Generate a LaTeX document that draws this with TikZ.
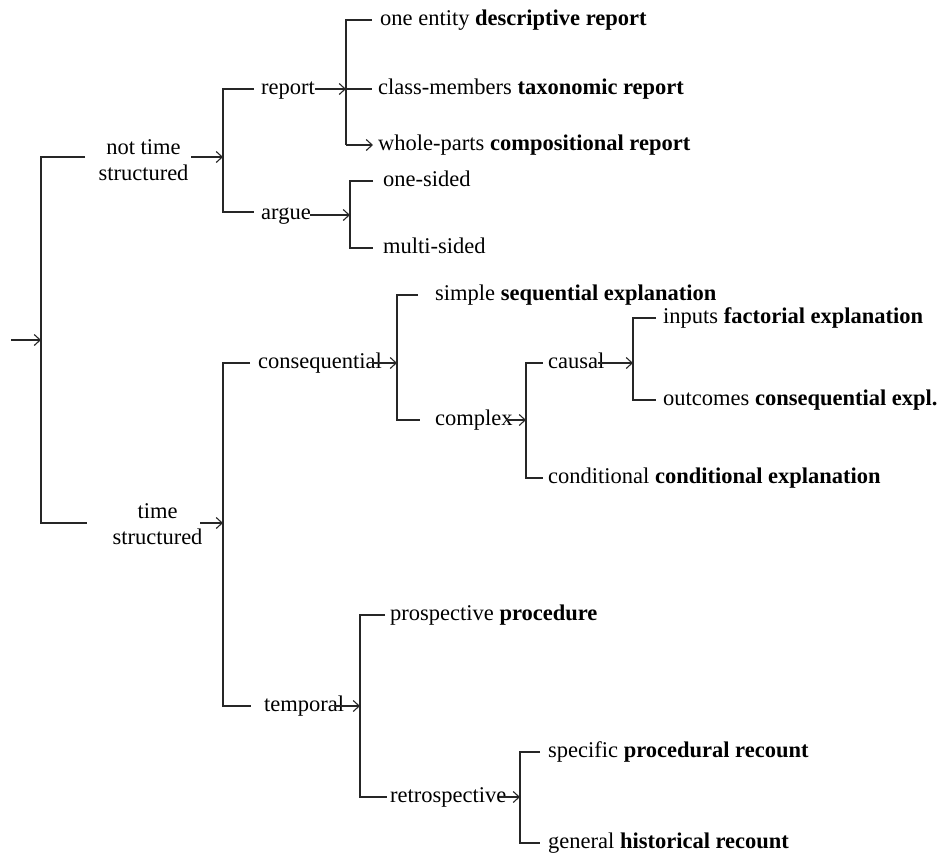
\documentclass[tikz,border=0pt]{standalone}
\usepackage{fontspec}
\setmainfont{Liberation Serif}
\usetikzlibrary{arrows.meta}

\begin{document}
\begin{tikzpicture}[x=1pt,y=-1pt,
  lbl/.style={anchor=base west, inner sep=0pt, yshift=-5.5pt, font=\fontsize{22.5}{26}\selectfont},
  twoline/.style={anchor=center, inner sep=0pt, align=center, font=\fontsize{22.5}{26}\selectfont},
  wire/.style={line width=1.1pt, black!85},
  arr/.style={wire, -{Straight Barb[length=6pt,width=11pt,line width=1.1pt]}},
]
\useasboundingbox (0,0) rectangle (937,852);

% ---------- labels ----------
\node[twoline] (nts) at (143.5,160) {not time\\structured};
\node[twoline] (ts)  at (157.5,524) {time\\structured};

\node[lbl] (report) at (261,89)  {report};
\node[lbl] (argue)  at (261,214) {argue};
\node[lbl] (one)    at (380,20)  {one entity \textbf{descriptive report}};
\node[lbl] (class)  at (378,89)  {class-members \textbf{taxonomic report}};
\node[lbl] (whole)  at (378,145) {whole-parts \textbf{compositional report}};
\node[lbl] (onesd)  at (383,181) {one-sided};
\node[lbl] (multi)  at (383,248) {multi-sided};

\node[lbl] (cons)    at (258,363) {consequential};
\node[lbl] (simple)  at (435,295) {simple \textbf{sequential explanation}};
\node[lbl] (complex) at (435,420) {complex};
\node[lbl] (causal)  at (548,363) {causal};
\node[lbl] (inputs)  at (663,318) {inputs \textbf{factorial explanation}};
\node[lbl] (outcome) at (663,400) {outcomes \textbf{consequential expl.}};
\node[lbl] (condit)  at (548,478) {conditional \textbf{conditional explanation}};

\node[lbl] (temporal) at (264,706) {temporal};
\node[lbl] (prosp)    at (390,615) {prospective \textbf{procedure}};
\node[lbl] (retro)    at (390,797) {retrospective};
\node[lbl] (specific) at (548,752) {specific \textbf{procedural recount}};
\node[lbl] (general)  at (548,843) {general \textbf{historical recount}};

% ---------- bracket joints ----------
\coordinate (in)  at (11,340);
\coordinate (j0)  at (41,340);
\coordinate (jA)  at (223,157);
\coordinate (jB)  at (223,523);
\coordinate (jR)  at (346,89);
\coordinate (jG)  at (350,215);
\coordinate (jC)  at (397,363);
\coordinate (jD)  at (526,420);
\coordinate (jE)  at (633,363);
\coordinate (jF)  at (360,706);
\coordinate (jH)  at (520,797);

% ---------- root ----------
\draw[arr] (in) -- (j0);
\draw[wire] (85,157) -- (41,157) -- (41,523) -- (87,523);
\draw[arr] (191,157) -- (jA);
\draw[arr] (200,523) -- (jB);

% ---------- not time structured ----------
\draw[wire] (254,89) -- (223,89) -- (223,212) -- (254,212);
\draw[arr] (report.east |- jR) -- (jR);
\draw[wire] (372,20) -- (346,20) -- (346,145);
\draw[wire] (jR) -- (372,89);
\draw[arr] (346,145) -- (373,145);
\draw[arr] ([xshift=-1pt]argue.east |- jG) -- (jG);
\draw[wire] (373,181) -- (350,181) -- (350,248) -- (373,248);

% ---------- time structured ----------
\draw[wire] (250,363) -- (223,363) -- (223,706) -- (251,706);
\draw[arr] ([xshift=-10pt]cons.east |- jC) -- (jC);
\draw[wire] (418,295) -- (397,295) -- (397,420) -- (420,420);
\draw[arr] ([xshift=-7pt]complex.east |- jD) -- (jD);
\draw[wire] (543,363) -- (526,363) -- (526,478) -- (543,478);
\draw[arr] ([xshift=-7pt]causal.east |- jE) -- (jE);
\draw[wire] (656,318) -- (633,318) -- (633,400) -- (656,400);

\draw[arr] ([xshift=-10pt]temporal.east |- jF) -- (jF);
\draw[wire] (385,615) -- (360,615) -- (360,797) -- (387,797);
\draw[arr] ([xshift=-8pt]retro.east |- jH) -- (jH);
\draw[wire] (540,752) -- (520,752) -- (520,843) -- (540,843);
\end{tikzpicture}
\end{document}
